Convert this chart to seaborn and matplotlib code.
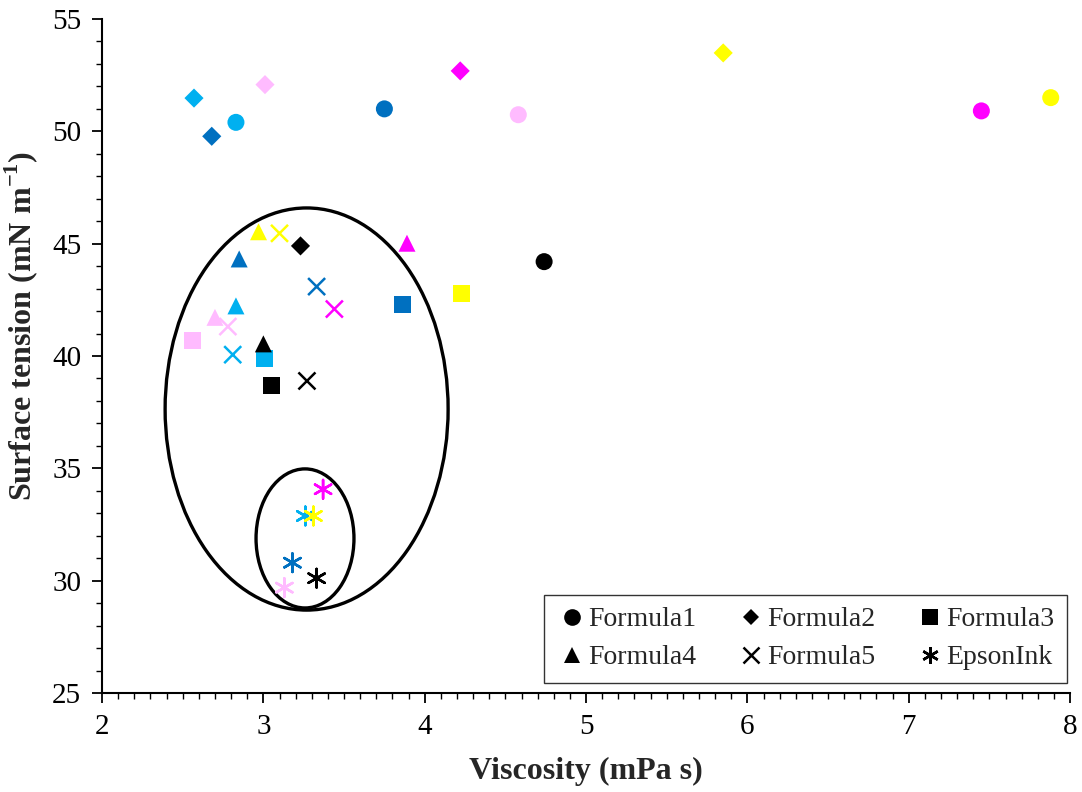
import matplotlib
matplotlib.use("Agg")
import matplotlib.pyplot as plt
from matplotlib.patches import Ellipse
from matplotlib.lines import Line2D
from matplotlib.ticker import MultipleLocator
import seaborn as sns
import pandas as pd

# Ink colour channels, in the order the values below are listed
inks = ["K", "B", "C", "LM", "M", "Y"]
ink_colors = {"K": "#000000", "B": "#0070C0", "C": "#00B0F0",
              "LM": "#FFBBFF", "M": "#FF00FF", "Y": "#FFFF00"}

# Viscosity (mPa s) and surface tension (mN/m) per formulation and ink
f1_inks = ["K", "B", "C", "LM", "M", "Y"]
f1_visc = [4.74, 3.75, 2.83, 4.58, 7.45, 7.88]
f1_st = [44.2, 51.0, 50.4, 50.74, 50.91, 51.5]

f2_inks = ["K", "B", "C", "LM", "M", "Y"]
f2_visc = [3.23, 2.68, 2.57, 3.01, 4.22, 5.85]
f2_st = [44.9, 49.78, 51.48, 52.08, 52.69, 53.49]

f3_inks = ["K", "B", "C", "LM", "Y"]
f3_visc = [3.05, 3.86, 3.01, 2.56, 4.23]
f3_st = [38.68, 42.3, 39.88, 40.7, 42.77]

f4_inks = ["K", "B", "C", "LM", "M", "Y"]
f4_visc = [3.00, 2.85, 2.83, 2.70, 3.89, 2.97]
f4_st = [40.54, 44.32, 42.23, 41.72, 45.02, 45.53]

f5_inks = ["K", "B", "C", "LM", "M", "Y"]
f5_visc = [3.27, 3.33, 2.81, 2.78, 3.44, 3.10]
f5_st = [38.89, 43.09, 40.06, 41.31, 42.09, 45.46]

ep_inks = ["K", "B", "C", "LM", "M", "Y"]
ep_visc = [3.33, 3.18, 3.26, 3.13, 3.37, 3.31]
ep_st = [30.11, 30.8, 32.88, 29.69, 34.07, 32.88]

series_names = ["Formula1", "Formula2", "Formula3", "Formula4", "Formula5", "EpsonInk"]

frames = []
for name, ik, vx, st in zip(series_names,
                            [f1_inks, f2_inks, f3_inks, f4_inks, f5_inks, ep_inks],
                            [f1_visc, f2_visc, f3_visc, f4_visc, f5_visc, ep_visc],
                            [f1_st, f2_st, f3_st, f4_st, f5_st, ep_st]):
    frames.append(pd.DataFrame({"formula": name, "ink": ik,
                                "viscosity": vx, "tension": st}))
df = pd.concat(frames, ignore_index=True)

sns.set_theme(style="white")
plt.rcParams["font.family"] = ["Liberation Serif", "DejaVu Serif"]
plt.rcParams["mathtext.fontset"] = "custom"
plt.rcParams["mathtext.rm"] = "Liberation Serif"
plt.rcParams["mathtext.bf"] = "Liberation Serif:bold"

asterisk = (6, 2, 0)
marker_style = {
    "Formula1": dict(marker="o", s=150, filled=True),
    "Formula2": dict(marker="D", s=95, filled=True),
    "Formula3": dict(marker="s", s=150, filled=True),
    "Formula4": dict(marker="^", s=150, filled=True),
    "Formula5": dict(marker="x", s=150, filled=False),
    "EpsonInk": dict(marker=asterisk, s=180, filled=False),
}

fig = plt.figure(figsize=(10.82, 7.92), dpi=100)
ax = fig.add_axes([0.0943, 0.125, 0.8947, 0.851])

for name in series_names:
    sub = df[df["formula"] == name]
    st = marker_style[name]
    if st["filled"]:
        sns.scatterplot(data=sub, x="viscosity", y="tension", hue="ink",
                        palette=ink_colors, marker=st["marker"], s=st["s"],
                        linewidth=0, legend=False, ax=ax, zorder=3)
    else:
        sns.scatterplot(data=sub, x="viscosity", y="tension", hue="ink",
                        palette=ink_colors, marker=st["marker"], s=st["s"],
                        linewidth=1.8, legend=False, ax=ax, zorder=3)

# Grouping outlines around the low-viscosity cluster
ax.add_patch(Ellipse((3.268, 37.64), 1.754, 17.9, fill=False,
                     edgecolor="black", linewidth=2.4, zorder=2))
ax.add_patch(Ellipse((3.258, 31.88), 0.607, 6.19, fill=False,
                     edgecolor="black", linewidth=2.4, zorder=2))

ax.set_xlim(2, 8)
ax.set_ylim(25, 55)
ax.xaxis.set_major_locator(MultipleLocator(1))
ax.xaxis.set_minor_locator(MultipleLocator(0.1))
ax.yaxis.set_major_locator(MultipleLocator(5))
ax.yaxis.set_minor_locator(MultipleLocator(1))
ax.tick_params(which="major", direction="out", length=7, width=1.3,
               labelsize=21, colors="black", bottom=True, left=True, pad=8)
ax.tick_params(which="minor", direction="out", length=4, width=1.0,
               colors="black", bottom=True, left=True)

for side in ["top", "right"]:
    ax.spines[side].set_visible(False)
for side in ["left", "bottom"]:
    ax.spines[side].set_color("black")
    ax.spines[side].set_linewidth(1.5)

ax.set_xlabel("Viscosity (mPa s)", fontsize=23, fontweight="bold", labelpad=12)
ax.set_ylabel(r"Surface tension (mN m$^{\mathbf{-1}}$)", fontsize=23,
              fontweight="bold")
ax.yaxis.set_label_coords(-0.064, 0.545)

# Legend shows marker shape only, in black; laid out row by row
handles = {}
for name in series_names:
    st = marker_style[name]
    if st["filled"]:
        handles[name] = Line2D([], [], linestyle="none", marker=st["marker"],
                               color="black",
                               markersize=12 if st["marker"] != "D" else 8.5,
                               markeredgewidth=0)
    else:
        handles[name] = Line2D([], [], linestyle="none", marker=st["marker"],
                               color="black", markersize=12, markeredgewidth=1.8)

legend_order = ["Formula1", "Formula4", "Formula2", "Formula5", "Formula3", "EpsonInk"]
leg = ax.legend([handles[n] for n in legend_order], legend_order,
                loc="lower right", bbox_to_anchor=(0.997, 0.015), ncol=3,
                fontsize=20, frameon=True, fancybox=False, edgecolor="black",
                handletextpad=0.05, columnspacing=1.4, borderpad=0.45,
                labelspacing=0.45, handlelength=1.1, borderaxespad=0)
leg.get_frame().set_linewidth(1.0)

fig.savefig("out.png", dpi=100)
